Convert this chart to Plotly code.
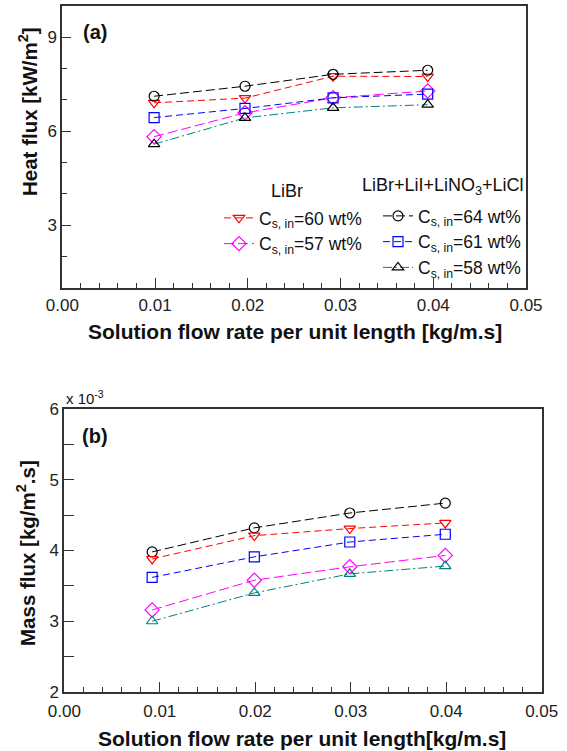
import plotly.graph_objects as go

# ---------------- data ----------------
x_ticks = [0.00, 0.01, 0.02, 0.03, 0.04, 0.05]
x_tick_labels = ["0.00", "0.01", "0.02", "0.03", "0.04", "0.05"]

# (a) heat flux [kW/m2]
x_a = [0.0099, 0.0197, 0.0292, 0.0394]
heat_libr_60 = [6.90, 7.05, 7.75, 7.74]
heat_libr_57 = [5.82, 6.58, 7.06, 7.28]
heat_mix_64 = [7.11, 7.43, 7.81, 7.94]
heat_mix_61 = [6.43, 6.72, 7.06, 7.18]
heat_mix_58 = [5.58, 6.42, 6.74, 6.84]
y_a_ticks = [3, 6, 9]

# (b) mass flux [x10^-3 kg/m2.s]
x_b = [0.0092, 0.0199, 0.0299, 0.0399]
mass_libr_60 = [3.88, 4.21, 4.31, 4.39]
mass_libr_57 = [3.16, 3.58, 3.77, 3.93]
mass_mix_64 = [3.98, 4.32, 4.53, 4.67]
mass_mix_61 = [3.62, 3.91, 4.12, 4.23]
mass_mix_58 = [3.00, 3.40, 3.67, 3.78]
y_b_ticks = [2, 3, 4, 5, 6]

labels = {
    "libr60": "C<sub>s, in</sub>=60 wt%",
    "libr57": "C<sub>s, in</sub>=57 wt%",
    "mix64": "C<sub>s, in</sub>=64 wt%",
    "mix61": "C<sub>s, in</sub>=61 wt%",
    "mix58": "C<sub>s, in</sub>=58 wt%",
}

W, H = 567, 751
FONT = "Liberation Sans, Arial, sans-serif"

def px_x(p):
    return p / W

def px_y(p):
    return 1 - p / H

fig = go.Figure()

styles = {
    "libr60": dict(color="#ff0000", mcolor="#ff0000", symbol="triangle-down-open", dash="7px,4px"),
    "libr57": dict(color="#ff00ff", mcolor="#ff00ff", symbol="diamond-open", dash="10px,4px"),
    "mix64": dict(color="#000000", mcolor="#000000", symbol="circle-open", dash="9px,4px"),
    "mix61": dict(color="#0000ff", mcolor="#0000ff", symbol="square-open", dash="7px,4px"),
    "mix58": dict(color="#008080", mcolor="#000000", symbol="triangle-up-open", dash="9px,3px,2px,3px"),
}

def add(x, y, key, xa, ya, show, legend, mcolor=None):
    s = styles[key]
    fig.add_trace(go.Scatter(
        x=x, y=y, mode="lines+markers", name=labels[key],
        xaxis=xa, yaxis=ya, showlegend=show, legend=legend,
        line=dict(color=s["color"], width=1, dash=s["dash"]),
        marker=dict(symbol=s["symbol"], size=10 if "diamond" not in s["symbol"] else 11,
                    color=mcolor or s["mcolor"], line=dict(width=1.2, color=mcolor or s["mcolor"])),
    ))

# panel (a)
add(x_a, heat_libr_60, "libr60", "x", "y", True, "legend")
add(x_a, heat_libr_57, "libr57", "x", "y", True, "legend")
add(x_a, heat_mix_64, "mix64", "x", "y", True, "legend2")
add(x_a, heat_mix_61, "mix61", "x", "y", True, "legend2")
add(x_a, heat_mix_58, "mix58", "x", "y", True, "legend2")
# panel (b)
add(x_b, mass_mix_64, "mix64", "x2", "y2", False, "legend2")
add(x_b, mass_libr_60, "libr60", "x2", "y2", False, "legend")
add(x_b, mass_mix_61, "mix61", "x2", "y2", False, "legend2")
add(x_b, mass_libr_57, "libr57", "x2", "y2", False, "legend")
add(x_b, mass_mix_58, "mix58", "x2", "y2", False, "legend2", mcolor="#008080")

axis_common = dict(
    showline=True, mirror=True, linecolor="#333333", linewidth=2,
    showgrid=False, zeroline=False, ticks="inside", tickcolor="#333333",
    tickfont=dict(family=FONT, size=17, color="#222222"),
)

fig.update_layout(
    width=W, height=H, margin=dict(l=0, r=0, t=0, b=0, autoexpand=False),
    plot_bgcolor="white", paper_bgcolor="white",
    font=dict(family=FONT, color="#111111"),
    xaxis=dict(domain=[px_x(62.3), px_x(526)], anchor="y", range=[0, 0.05],
               tickvals=x_ticks, ticktext=x_tick_labels, ticklen=10, tickwidth=1,
               ticklabelstandoff=1,
               minor=dict(dtick=0.002, ticks="inside", ticklen=5, tickcolor="#333333", tickwidth=1),
               **axis_common),
    yaxis=dict(domain=[px_y(287.7), px_y(5.7)], anchor="x", range=[1, 10],
               tickvals=y_a_ticks, ticklen=9, tickwidth=1,
               minor=dict(dtick=1, ticks="inside", ticklen=5, tickcolor="#333333", tickwidth=1),
               **axis_common),
    xaxis2=dict(domain=[px_x(64.3), px_x(541.7)], anchor="y2", range=[0, 0.05],
                tickvals=x_ticks, ticktext=x_tick_labels, ticklen=10, tickwidth=1,
                ticklabelstandoff=3,
                minor=dict(dtick=0.002, ticks="inside", ticklen=5, tickcolor="#333333", tickwidth=1),
                **axis_common),
    yaxis2=dict(domain=[px_y(692), px_y(409)], anchor="x2", range=[2, 6],
                tickvals=y_b_ticks, ticklen=10, tickwidth=1,
                minor=dict(dtick=0.5, ticks="inside", ticklen=10, tickcolor="#333333", tickwidth=1),
                **axis_common),
    legend=dict(x=px_x(219), y=px_y(200), xanchor="left", yanchor="top",
                xref="paper", yref="paper", bgcolor="rgba(0,0,0,0)",
                font=dict(family=FONT, size=17.5, color="#111111"), tracegroupgap=0,
                itemwidth=30),
    legend2=dict(x=px_x(378), y=px_y(198), xanchor="left", yanchor="top",
                 xref="paper", yref="paper", bgcolor="rgba(0,0,0,0)",
                 font=dict(family=FONT, size=17.5, color="#111111"), tracegroupgap=0,
                 itemwidth=30),
)

ann = []
def A(text, x, y, size, bold=False, angle=0, xanchor="center"):
    ann.append(dict(text=f"<b>{text}</b>" if bold else text, x=px_x(x), y=px_y(y),
                    xref="paper", yref="paper", showarrow=False, textangle=angle,
                    xanchor=xanchor, yanchor="middle",
                    font=dict(family=FONT, size=size, color="#111111")))

A("(a)", 95, 32, 20, bold=True)
A("(b)", 95, 436, 20, bold=True)
A("LiBr", 287, 191, 18)
A("LiBr+LiI+LiNO<sub>3</sub>+LiCl", 443, 187, 18)
A("Heat flux [kW/m<sup>2</sup>]", 28, 112, 20.5, bold=True, angle=-90)
A("Mass flux [kg/m<sup>2</sup>.s]", 26, 553, 20.5, bold=True, angle=-90)
A("Solution flow rate per unit length [kg/m.s]", 295, 331, 21, bold=True)
A("Solution flow rate per unit length[kg/m.s]", 302, 738, 21, bold=True)
A("x 10<sup>-3</sup>", 64, 397, 15, xanchor="left")
fig.update_layout(annotations=ann)

fig.write_html("out.html",
               config={"displayModeBar": False},
               post_script="document.body.style.margin='0';document.body.style.padding='0';")
